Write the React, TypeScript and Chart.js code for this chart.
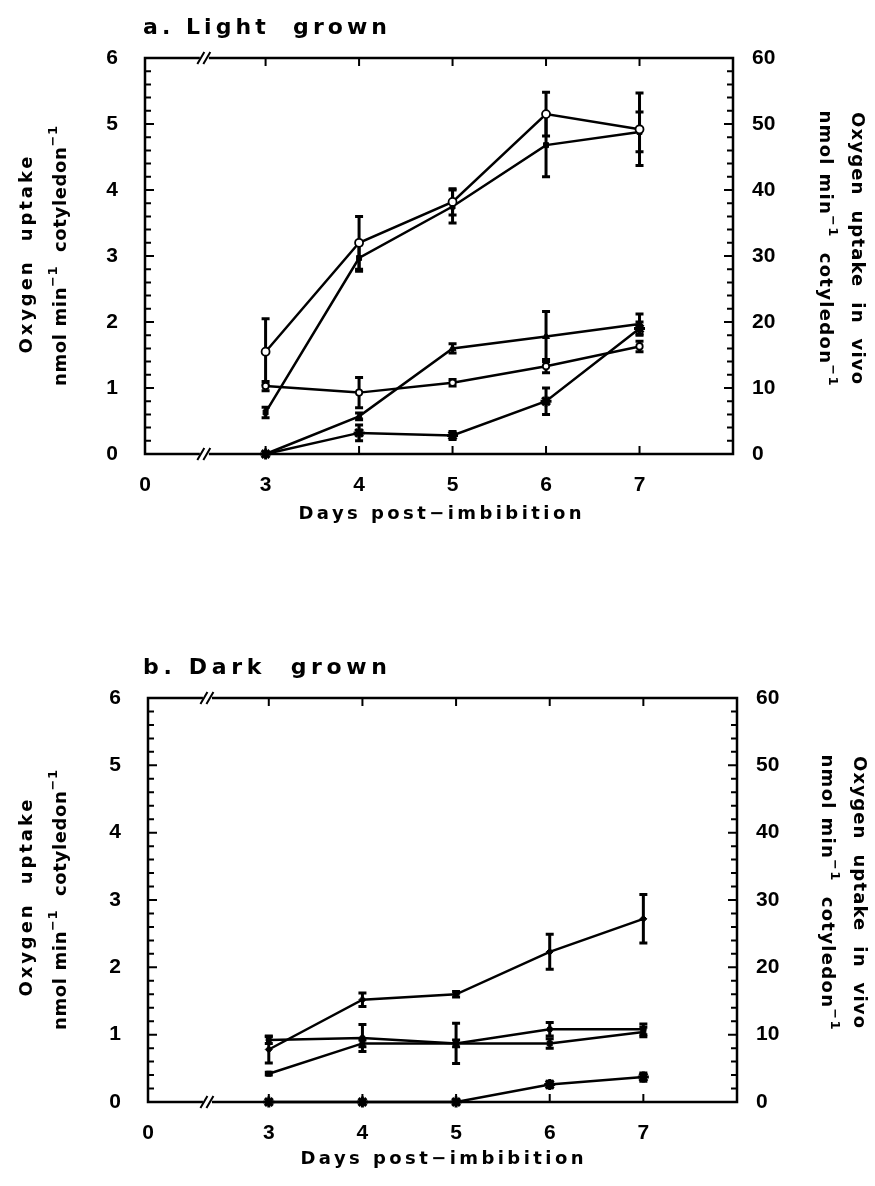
import React, { useEffect, useRef } from 'react';
import { Chart, registerables } from 'chart.js';

Chart.register(...registerables);

const FONT = '"Liberation Sans", "DejaVu Sans", Arial, sans-serif';
const TEXT_FONT = '"DejaVu Sans", "Liberation Sans", Arial, sans-serif';

// ---- axes ----
const days = [3, 4, 5, 6, 7];
const xTickValues = [0, 3, 4, 5, 6, 7];
const leftTickValues = [0, 1, 2, 3, 4, 5, 6];
const rightTickValues = [0, 10, 20, 30, 40, 50, 60];
const X_ZERO_POS = 1.71; // the broken axis shows "0" at its left end
const X_BREAK = 2.35;
const X_MAX = 8;

// ---- a. Light grown ----
const lightOpen = [1.55, 3.2, 3.82, 5.15, 4.92];
const lightOpenErr = [0.5, 0.4, 0.2, 0.33, 0.55];
const lightSquare = [0.63, 2.97, 3.75, 4.68, 4.88];
const lightSquareErr = [0.08, 0.2, 0.25, 0.48, 0.3];
const lightFlat = [1.03, 0.93, 1.08, 1.33, 1.63];
const lightFlatErr = [0.07, 0.23, 0.05, 0.1, 0.08];
const lightTri = [0, 0.57, 1.6, 1.78, 1.97];
const lightTriErr = [0, 0.05, 0.07, 0.38, 0.15];
const lightStar = [0, 0.32, 0.28, 0.8, 1.9];
const lightStarErr = [0, 0.12, 0.06, 0.2, 0.1];

// ---- b. Dark grown ----
const darkTop = [0.78, 1.52, 1.6, 2.23, 2.72];
const darkTopErr = [0.2, 0.1, 0.04, 0.26, 0.36];
const darkMid = [0.92, 0.95, 0.87, 1.08, 1.08];
const darkMidErr = [0.05, 0.2, 0.3, 0.1, 0.08];
const darkLow = [0.42, 0.87, 0.87, 0.87, 1.04];
const darkLowErr = [0.02, 0.05, 0.05, 0.07, 0.07];
const darkStar = [0, 0, 0, 0.26, 0.37];
const darkStarErr = [0, 0, 0, 0.05, 0.06];

type Seg = { t: string; sup?: boolean };

function drawRich(ctx: CanvasRenderingContext2D, segs: Seg[], x: number, y: number, size: number, width: number, rot: number) {
  ctx.save();
  ctx.translate(x, y);
  ctx.rotate(rot);
  ctx.fillStyle = '#000';
  ctx.textBaseline = 'alphabetic';
  ctx.textAlign = 'left';
  const supSize = Math.round(size * 0.7);
  const font = (s: number) => `bold ${s}px ${TEXT_FONT}`;
  let natural = 0;
  let n = 0;
  (ctx as any).letterSpacing = '0px';
  for (const s of segs) {
    ctx.font = font(s.sup ? supSize : size);
    natural += ctx.measureText(s.t).width;
    n += s.t.length;
  }
  const ls = width ? Math.max(0, (width - natural) / Math.max(1, n - 1)) : 0;
  const total = natural + ls * (n - 1);
  let cx = -total / 2;
  const base = size * 0.36;
  for (const s of segs) {
    ctx.font = font(s.sup ? supSize : size);
    (ctx as any).letterSpacing = `${ls}px`;
    ctx.fillText(s.t, cx, s.sup ? base - size * 0.5 : base);
    cx += ctx.measureText(s.t).width;
  }
  ctx.restore();
}

const unitSegs: Seg[] = [
  { t: 'nmol min' },
  { t: '\u22121', sup: true },
  { t: '  cotyledon' },
  { t: '\u22121', sup: true },
];

type TextPos = { x: number; y: number; w: number };

interface PanelCfg {
  top: number;
  height: number;
  padTop: number;
  leftW: number;
  rightW: number;
  xHeight: number;
  title: string;
  titlePos: TextPos;
  xTitlePos: TextPos;
  left1: TextPos;
  left2: TextPos;
  right1: TextPos;
  right2: TextPos;
  series: { data: number[]; err: number[]; style: string; radius: number; fill: string; bw: number }[];
}

function makeSeries(vals: number[], err: number[], style: string, radius: number, fill: string, bw: number) {
  return {
    data: days.map((d, i) => ({ x: d, y: vals[i] })),
    errors: err,
    yAxisID: 'y',
    borderColor: '#000',
    borderWidth: 2.5,
    tension: 0,
    fill: false,
    clip: false as any,
    pointStyle: style,
    pointRadius: radius,
    pointBackgroundColor: fill,
    pointBorderColor: '#000',
    pointBorderWidth: bw,
  };
}

const tickFont = { family: FONT, size: 21, weight: 'bold' as const };

function buildConfig(cfg: PanelCfg): any {
  const framePlugin = {
    id: 'frame',
    beforeDatasetsDraw(chart: any) {
      const ctx: CanvasRenderingContext2D = chart.ctx;
      const ys = chart.scales.y;
      ctx.save();
      ctx.strokeStyle = '#000';
      ctx.lineWidth = 3;
      chart.data.datasets.forEach((ds: any, i: number) => {
        const meta = chart.getDatasetMeta(i);
        meta.data.forEach((pt: any, j: number) => {
          const e = ds.errors[j];
          const v = ds.data[j].y;
          if (!e) return;
          const y1 = ys.getPixelForValue(v + e);
          const y2 = ys.getPixelForValue(v - e);
          ctx.beginPath();
          ctx.moveTo(pt.x, y1);
          ctx.lineTo(pt.x, y2);
          ctx.moveTo(pt.x - 4, y1);
          ctx.lineTo(pt.x + 4, y1);
          ctx.moveTo(pt.x - 4, y2);
          ctx.lineTo(pt.x + 4, y2);
          ctx.stroke();
        });
      });
      ctx.restore();
    },
    afterDraw(chart: any) {
      const ctx: CanvasRenderingContext2D = chart.ctx;
      const { left, right, top, bottom } = chart.chartArea;
      const xs = chart.scales.x;
      const ys = chart.scales.y;
      const bx = xs.getPixelForValue(X_BREAK);
      ctx.save();
      ctx.strokeStyle = '#000';
      ctx.lineWidth = 2.5;
      ctx.lineCap = 'butt';
      // frame with broken x axis
      ctx.beginPath();
      ctx.moveTo(bx - 5, top);
      ctx.lineTo(left, top);
      ctx.lineTo(left, bottom);
      ctx.lineTo(bx - 5, bottom);
      ctx.moveTo(bx + 4, top);
      ctx.lineTo(right, top);
      ctx.lineTo(right, bottom);
      ctx.lineTo(bx + 4, bottom);
      ctx.stroke();
      // break marks
      ctx.lineWidth = 2;
      ctx.beginPath();
      for (const yy of [top, bottom]) {
        for (const dx of [-4, 2]) {
          ctx.moveTo(bx + dx - 3.5, yy + 6);
          ctx.lineTo(bx + dx + 3.5, yy - 6);
        }
      }
      ctx.stroke();
      // y ticks (inward), minor every 0.2
      ctx.lineWidth = 2;
      ctx.beginPath();
      for (let k = 0; k <= 30; k++) {
        const v = k / 5;
        const py = ys.getPixelForValue(v);
        const len = k % 5 === 0 ? 9 : 6;
        ctx.moveTo(left, py);
        ctx.lineTo(left + len, py);
        ctx.moveTo(right, py);
        ctx.lineTo(right - len, py);
      }
      // x ticks (inward) top and bottom
      for (const d of days) {
        const px = xs.getPixelForValue(d);
        ctx.moveTo(px, top);
        ctx.lineTo(px, top + 8);
        ctx.moveTo(px, bottom);
        ctx.lineTo(px, bottom - 8);
      }
      ctx.stroke();
      ctx.restore();

      // texts
      drawRich(ctx, [{ t: cfg.title }], cfg.titlePos.x, cfg.titlePos.y, 22, cfg.titlePos.w, 0);
      drawRich(ctx, [{ t: 'Days post\u2212imbibition' }], cfg.xTitlePos.x, cfg.xTitlePos.y, 18, cfg.xTitlePos.w, 0);
      drawRich(ctx, [{ t: 'Oxygen  uptake' }], cfg.left1.x, cfg.left1.y, 18, cfg.left1.w, -Math.PI / 2);
      drawRich(ctx, unitSegs, cfg.left2.x, cfg.left2.y, 18, cfg.left2.w, -Math.PI / 2);
      drawRich(ctx, [{ t: 'Oxygen  uptake  in  vivo' }], cfg.right1.x, cfg.right1.y, 18, cfg.right1.w, Math.PI / 2);
      drawRich(ctx, unitSegs, cfg.right2.x, cfg.right2.y, 18, cfg.right2.w, Math.PI / 2);
    },
  };

  return {
    type: 'line',
    data: {
      datasets: cfg.series.map((s) => makeSeries(s.data, s.err, s.style, s.radius, s.fill, s.bw)),
    },
    options: {
      responsive: false,
      animation: false,
      devicePixelRatio: 1,
      layout: { padding: { top: cfg.padTop, left: 0, right: 0, bottom: 0 } },
      plugins: { legend: { display: false }, tooltip: { enabled: false }, title: { display: false } },
      scales: {
        x: {
          type: 'linear',
          min: X_ZERO_POS,
          max: X_MAX,
          afterBuildTicks: (s: any) => {
            s.ticks = xTickValues.map((v) => ({ value: v === 0 ? X_ZERO_POS : v }));
          },
          afterFit: (s: any) => {
            s.height = cfg.xHeight;
          },
          ticks: {
            callback: (v: number) => (v < X_BREAK ? '0' : String(v)),
            font: tickFont,
            color: '#000',
            padding: 19,
            maxRotation: 0,
            autoSkip: false,
          },
          grid: { display: false, drawTicks: false },
          border: { display: false },
        },
        y: {
          position: 'left',
          min: 0,
          max: 6,
          afterBuildTicks: (s: any) => {
            s.ticks = leftTickValues.map((v) => ({ value: v }));
          },
          afterFit: (s: any) => {
            s.width = cfg.leftW;
          },
          ticks: { font: tickFont, color: '#000', padding: 27 },
          grid: { display: false, drawTicks: false },
          border: { display: false },
        },
        y2: {
          position: 'right',
          min: 0,
          max: 60,
          afterBuildTicks: (s: any) => {
            s.ticks = rightTickValues.map((v) => ({ value: v }));
          },
          afterFit: (s: any) => {
            s.width = cfg.rightW;
          },
          ticks: { font: tickFont, color: '#000', padding: 19 },
          grid: { display: false, drawTicks: false },
          border: { display: false },
        },
      },
    },
    plugins: [framePlugin],
  };
}

const panelA: PanelCfg = {
  top: 0,
  height: 600,
  padTop: 58,
  leftW: 145,
  rightW: 142,
  xHeight: 146,
  title: 'a. Light  grown',
  titlePos: { x: 265, y: 26, w: 244 },
  xTitlePos: { x: 440, y: 513, w: 283 },
  left1: { x: 26, y: 255, w: 197 },
  left2: { x: 60, y: 256, w: 260 },
  right1: { x: 858, y: 248, w: 272 },
  right2: { x: 826, y: 248, w: 275 },
  series: [
    { data: lightOpen, err: lightOpenErr, style: 'circle', radius: 4, fill: '#fff', bw: 1.8 },
    { data: lightSquare, err: lightSquareErr, style: 'rect', radius: 3.5, fill: '#000', bw: 1 },
    { data: lightFlat, err: lightFlatErr, style: 'circle', radius: 3.2, fill: '#fff', bw: 1.8 },
    { data: lightTri, err: lightTriErr, style: 'triangle', radius: 4, fill: '#000', bw: 1 },
    { data: lightStar, err: lightStarErr, style: 'star', radius: 5.5, fill: '#000', bw: 3 },
  ],
};

const panelB: PanelCfg = {
  top: 640,
  height: 546,
  padTop: 58,
  leftW: 148,
  rightW: 138,
  xHeight: 84,
  title: 'b. Dark  grown',
  titlePos: { x: 265, y: 26, w: 244 },
  xTitlePos: { x: 442, y: 518, w: 283 },
  left1: { x: 26, y: 258, w: 197 },
  left2: { x: 60, y: 260, w: 260 },
  right1: { x: 860, y: 252, w: 272 },
  right2: { x: 828, y: 252, w: 275 },
  series: [
    { data: darkTop, err: darkTopErr, style: 'rectRot', radius: 3.5, fill: '#000', bw: 1 },
    { data: darkMid, err: darkMidErr, style: 'circle', radius: 2.8, fill: '#000', bw: 1 },
    { data: darkLow, err: darkLowErr, style: 'rect', radius: 3.5, fill: '#000', bw: 1 },
    { data: darkStar, err: darkStarErr, style: 'star', radius: 5.5, fill: '#000', bw: 3 },
  ],
};

function Panel({ cfg }: { cfg: PanelCfg }) {
  const ref = useRef<HTMLCanvasElement>(null);
  useEffect(() => {
    const chart = new Chart(ref.current as HTMLCanvasElement, buildConfig(cfg));
    return () => chart.destroy();
  }, [cfg]);
  return (
    <canvas
      ref={ref}
      width={875}
      height={cfg.height}
      style={{ position: 'absolute', left: 0, top: cfg.top, width: 875, height: cfg.height, display: 'block' }}
    />
  );
}

export default function App() {
  return (
    <div style={{ position: 'absolute', left: 0, top: 0, width: 875, height: 1186, background: '#fff' }}>
      <Panel cfg={panelA} />
      <Panel cfg={panelB} />
    </div>
  );
}
